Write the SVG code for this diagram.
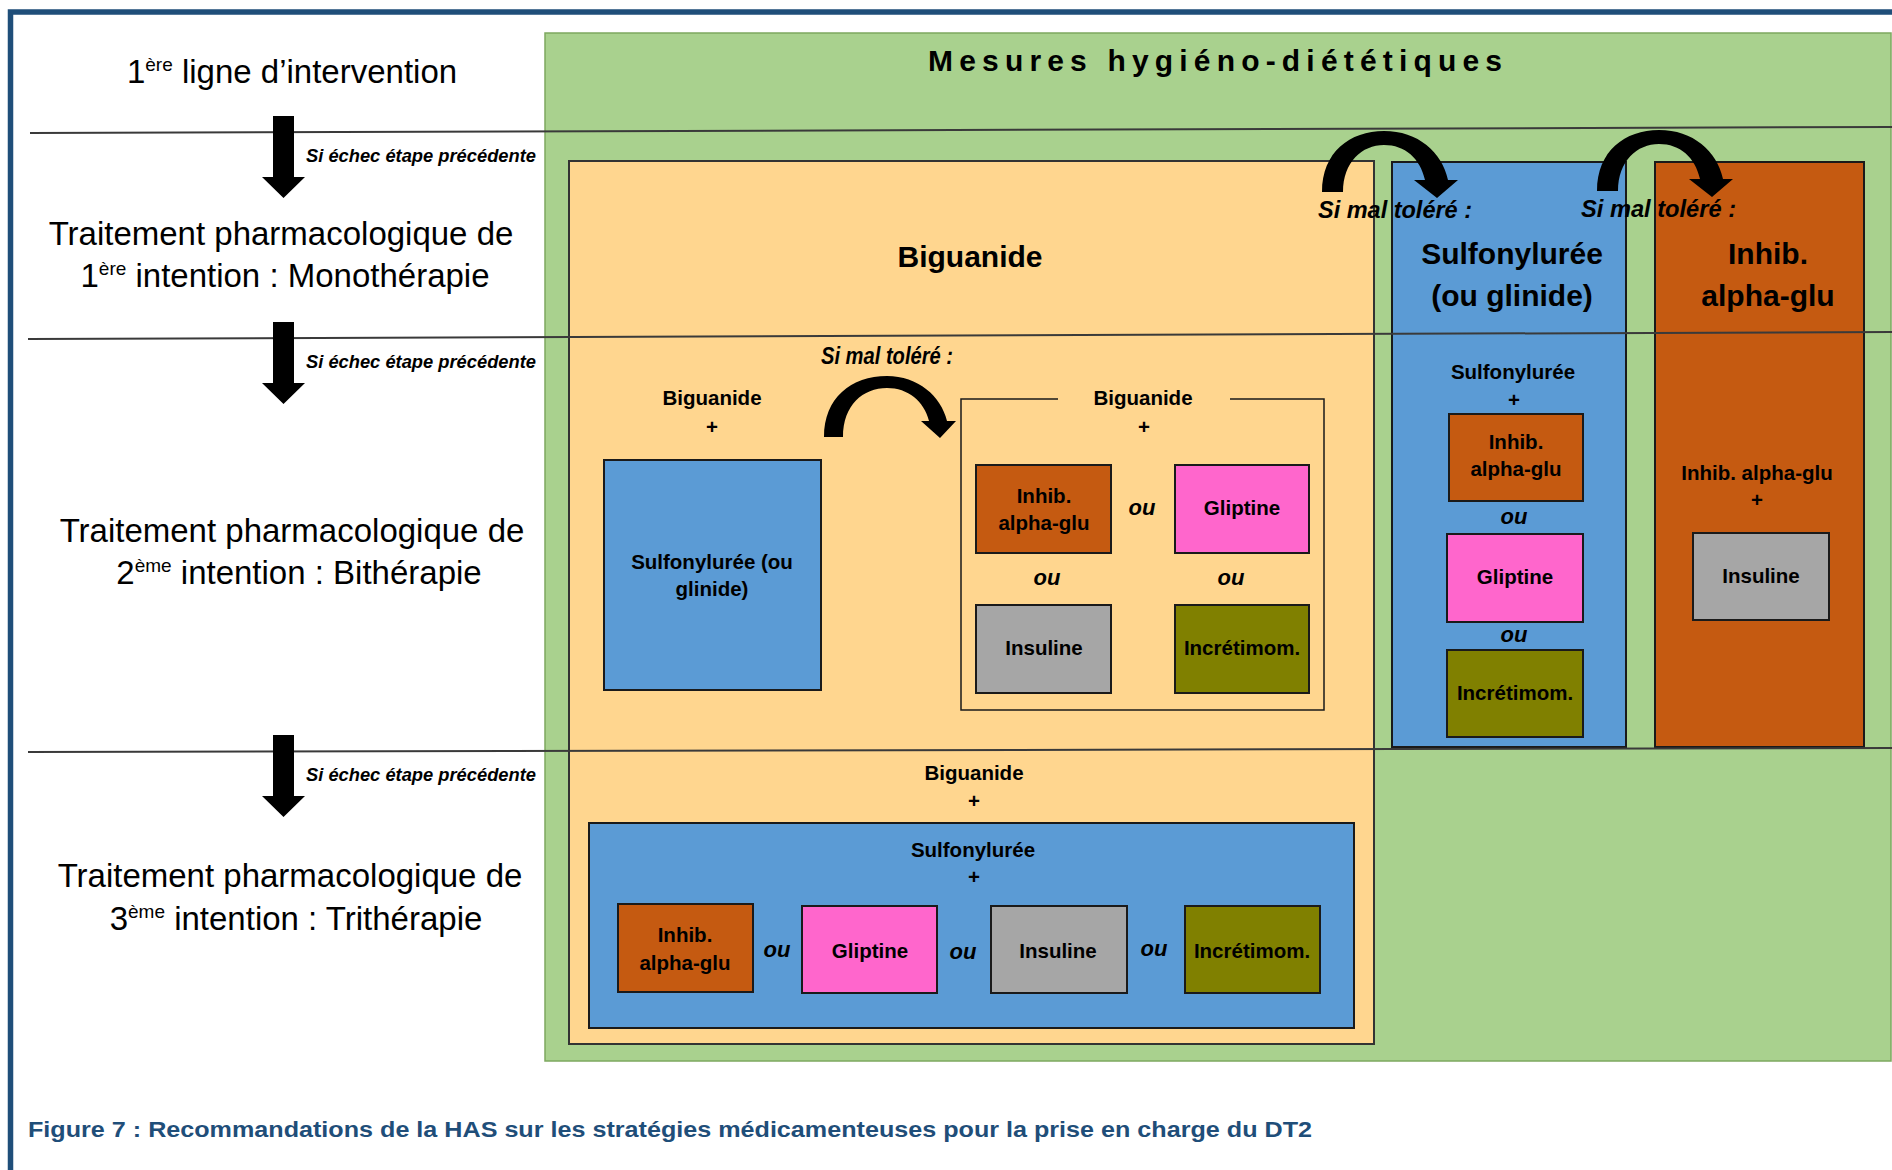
<svg xmlns="http://www.w3.org/2000/svg" width="1892" height="1170" viewBox="0 0 1892 1170">
<style>
text{font-family:"Liberation Sans",Arial,sans-serif;fill:#000}
.lbl{font-size:33px}
.sup{font-size:19px}
.step{font-size:18px;font-weight:bold;font-style:italic}
.tol{font-size:23px;font-weight:bold;font-style:italic}
.ou{font-size:22px;font-weight:bold;font-style:italic}
.big{font-size:30px;font-weight:bold}
.b{font-size:20.5px;font-weight:bold}
.box{stroke:#1a1a1a;stroke-width:2}
.div{stroke:#3a3a3a;stroke-width:2;fill:none}
.orange{fill:#C55A11}
.pink{fill:#FF66CC}
.gray{fill:#A6A6A6}
.olive{fill:#808000}
.blue{fill:#5B9BD5}
.arr{fill:#000}
</style>

<!-- frame -->
<path d="M10.5,1170 V12 H1892" fill="none" stroke="#1F4E79" stroke-width="5.5"/>

<!-- left column labels -->
<g id="label-ligne1">
<text class="lbl" x="292" y="83" text-anchor="middle">1<tspan class="sup" dy="-12">ère</tspan><tspan dy="12"> ligne d’intervention</tspan></text>
</g>
<g id="label-mono">
<text class="lbl" x="281" y="245" text-anchor="middle">Traitement pharmacologique de</text>
<text class="lbl" x="285" y="287" text-anchor="middle">1<tspan class="sup" dy="-12">ère</tspan><tspan dy="12"> intention : Monothérapie</tspan></text>
</g>
<g id="label-bi">
<text class="lbl" x="292" y="542" text-anchor="middle">Traitement pharmacologique de</text>
<text class="lbl" x="299" y="584" text-anchor="middle">2<tspan class="sup" dy="-12">ème</tspan><tspan dy="12"> intention : Bithérapie</tspan></text>
</g>
<g id="label-tri">
<text class="lbl" x="290" y="887" text-anchor="middle">Traitement pharmacologique de</text>
<text class="lbl" x="296" y="930" text-anchor="middle">3<tspan class="sup" dy="-12">ème</tspan><tspan dy="12"> intention : Trithérapie</tspan></text>
</g>

<!-- hygiene measures background -->
<g id="mesures">
<rect x="545" y="33" width="1346" height="1028" fill="#A9D18E" stroke="#7DA85F" stroke-width="1.5"/>
<text x="928" y="71" font-size="30" font-weight="bold" fill="#111" textLength="574" lengthAdjust="spacing">Mesures hygiéno-diététiques</text>
</g>

<!-- Biguanide column -->
<g id="biguanide">
<rect x="569" y="161" width="805" height="883" fill="#FFD68F" stroke="#333" stroke-width="2"/>
<text class="big" x="970" y="267" text-anchor="middle">Biguanide</text>
</g>

<!-- Sulfonylurée column -->
<g id="sulfonyluree">
<rect x="1392" y="162" width="234" height="585" class="blue" stroke="#1a1a1a" stroke-width="2"/>
<text class="big" x="1512" y="264" text-anchor="middle">Sulfonylurée</text>
<text class="big" x="1512" y="306" text-anchor="middle">(ou glinide)</text>
</g>

<!-- Inhib alpha-glu column -->
<g id="inhib-alpha-glu">
<rect x="1655" y="162" width="209" height="585" class="orange" stroke="#1a1a1a" stroke-width="2"/>
<text class="big" x="1768" y="264" text-anchor="middle">Inhib.</text>
<text class="big" x="1768" y="306" text-anchor="middle">alpha-glu</text>
</g>

<!-- Row 2 left: Biguanide + Sulfonylurée -->
<g id="bi-left">
<text class="b" x="712" y="405" text-anchor="middle">Biguanide</text>
<text class="b" x="712" y="434" text-anchor="middle">+</text>
<rect x="604" y="460" width="217" height="230" class="blue box"/>
<text class="b" x="712" y="569" text-anchor="middle">Sulfonylurée (ou</text>
<text class="b" x="712" y="596" text-anchor="middle">glinide)</text>
</g>

<!-- Row 2 right: Biguanide + alternatives -->
<g id="bi-right">
<path d="M1058,399 H961 V710 H1324 V399 H1230" fill="none" stroke="#1a1a1a" stroke-width="1.5"/>
<text class="b" x="1143" y="405" text-anchor="middle">Biguanide</text>
<text class="b" x="1144" y="434" text-anchor="middle">+</text>
</g>
<g id="bi-inhib">
<rect x="976" y="465" width="135" height="88" class="orange box"/>
<text class="b" x="1044" y="503" text-anchor="middle">Inhib.</text>
<text class="b" x="1044" y="530" text-anchor="middle">alpha-glu</text>
</g>
<g id="bi-gliptine">
<rect x="1175" y="465" width="134" height="88" class="pink box"/>
<text class="b" x="1242" y="515" text-anchor="middle">Gliptine</text>
</g>
<g id="bi-insuline">
<rect x="976" y="605" width="135" height="88" class="gray box"/>
<text class="b" x="1044" y="655" text-anchor="middle">Insuline</text>
</g>
<g id="bi-incretimom">
<rect x="1175" y="605" width="134" height="88" class="olive box"/>
<text class="b" x="1242" y="655" text-anchor="middle">Incrétimom.</text>
</g>
<text class="ou" x="1142" y="515" text-anchor="middle">ou</text>
<text class="ou" x="1047" y="585" text-anchor="middle">ou</text>
<text class="ou" x="1231" y="585" text-anchor="middle">ou</text>

<!-- Row 2 Sulfonylurée column -->
<g id="su-bi">
<text class="b" x="1513" y="379" text-anchor="middle">Sulfonylurée</text>
<text class="b" x="1514" y="407" text-anchor="middle">+</text>
</g>
<g id="su-inhib">
<rect x="1449" y="414" width="134" height="87" class="orange box"/>
<text class="b" x="1516" y="449" text-anchor="middle">Inhib.</text>
<text class="b" x="1516" y="476" text-anchor="middle">alpha-glu</text>
</g>
<text class="ou" x="1514" y="524" text-anchor="middle">ou</text>
<g id="su-gliptine">
<rect x="1447" y="534" width="136" height="88" class="pink box"/>
<text class="b" x="1515" y="584" text-anchor="middle">Gliptine</text>
</g>
<text class="ou" x="1514" y="642" text-anchor="middle">ou</text>
<g id="su-incretimom">
<rect x="1447" y="650" width="136" height="87" class="olive box"/>
<text class="b" x="1515" y="700" text-anchor="middle">Incrétimom.</text>
</g>

<!-- Row 2 Inhib column -->
<g id="ia-bi">
<text class="b" x="1757" y="480" text-anchor="middle">Inhib. alpha-glu</text>
<text class="b" x="1757" y="507" text-anchor="middle">+</text>
<rect x="1693" y="533" width="136" height="87" class="gray box"/>
<text class="b" x="1761" y="583" text-anchor="middle">Insuline</text>
</g>

<!-- Row 3: trithérapie -->
<g id="tri">
<text class="b" x="974" y="780" text-anchor="middle">Biguanide</text>
<text class="b" x="974" y="808" text-anchor="middle">+</text>
<rect x="589" y="823" width="765" height="205" class="blue box"/>
<text class="b" x="973" y="857" text-anchor="middle">Sulfonylurée</text>
<text class="b" x="974" y="884" text-anchor="middle">+</text>
</g>
<g id="tri-inhib">
<rect x="618" y="904" width="135" height="88" class="orange box"/>
<text class="b" x="685" y="942" text-anchor="middle">Inhib.</text>
<text class="b" x="685" y="970" text-anchor="middle">alpha-glu</text>
</g>
<text class="ou" x="777" y="957" text-anchor="middle">ou</text>
<g id="tri-gliptine">
<rect x="802" y="906" width="135" height="87" class="pink box"/>
<text class="b" x="870" y="958" text-anchor="middle">Gliptine</text>
</g>
<text class="ou" x="963" y="959" text-anchor="middle">ou</text>
<g id="tri-insuline">
<rect x="991" y="906" width="136" height="87" class="gray box"/>
<text class="b" x="1058" y="958" text-anchor="middle">Insuline</text>
</g>
<text class="ou" x="1154" y="956" text-anchor="middle">ou</text>
<g id="tri-incretimom">
<rect x="1185" y="906" width="135" height="87" class="olive box"/>
<text class="b" x="1252" y="958" text-anchor="middle">Incrétimom.</text>
</g>

<!-- divider lines -->
<line class="div" x1="30" y1="133" x2="1892" y2="127"/>
<line class="div" x1="28" y1="339" x2="1892" y2="332"/>
<line class="div" x1="28" y1="752" x2="1892" y2="748"/>

<!-- connectors -->
<g id="connectors">
<polygon class="arr" points="273,116 294,116 294,177 305,177 283.5,198 262,177 273,177"/>
<polygon class="arr" points="273,322 294,322 294,383 305,383 283.5,404 262,383 273,383"/>
<polygon class="arr" points="273,735 294,735 294,796 305,796 283.5,817 262,796 273,796"/>
<path class="arr" d="M1322,192 C1322,152 1350,131 1384,131 C1418,131 1442,152 1448,180 L1458,180 L1437,198 L1414,180 L1425,180 C1420,158 1405,145 1384,145 C1362,145 1343,162 1343,192 Z"/>
<path class="arr" transform="translate(275,-1)" d="M1322,192 C1322,152 1350,131 1384,131 C1418,131 1442,152 1448,180 L1458,180 L1437,198 L1414,180 L1425,180 C1420,158 1405,145 1384,145 C1362,145 1343,162 1343,192 Z"/>
<path class="arr" d="M824,437 C824,398 851,376 887,376 C918,376 941,396 947,421 L956,421 L940,438 L921,421 L929,421 C924,401 908,388 887,388 C863,388 843,405 843,437 Z"/>
</g>

<!-- connector labels -->
<text class="step" x="306" y="162" textLength="230" lengthAdjust="spacingAndGlyphs">Si échec étape précédente</text>
<text class="step" x="306" y="368" textLength="230" lengthAdjust="spacingAndGlyphs">Si échec étape précédente</text>
<text class="step" x="306" y="781" textLength="230" lengthAdjust="spacingAndGlyphs">Si échec étape précédente</text>
<text class="tol" x="1318" y="218" textLength="154" lengthAdjust="spacingAndGlyphs">Si mal toléré :</text>
<text class="tol" x="1581" y="217" textLength="155" lengthAdjust="spacingAndGlyphs">Si mal toléré :</text>
<text class="tol" x="821" y="364" font-size="20" textLength="132" lengthAdjust="spacingAndGlyphs">Si mal toléré :</text>

<!-- caption -->
<text x="28" y="1137" font-size="22" font-weight="bold" style="fill:#1F4E79" textLength="1284" lengthAdjust="spacingAndGlyphs">Figure 7 : Recommandations de la HAS sur les stratégies médicamenteuses pour la prise en charge du DT2</text>
</svg>
